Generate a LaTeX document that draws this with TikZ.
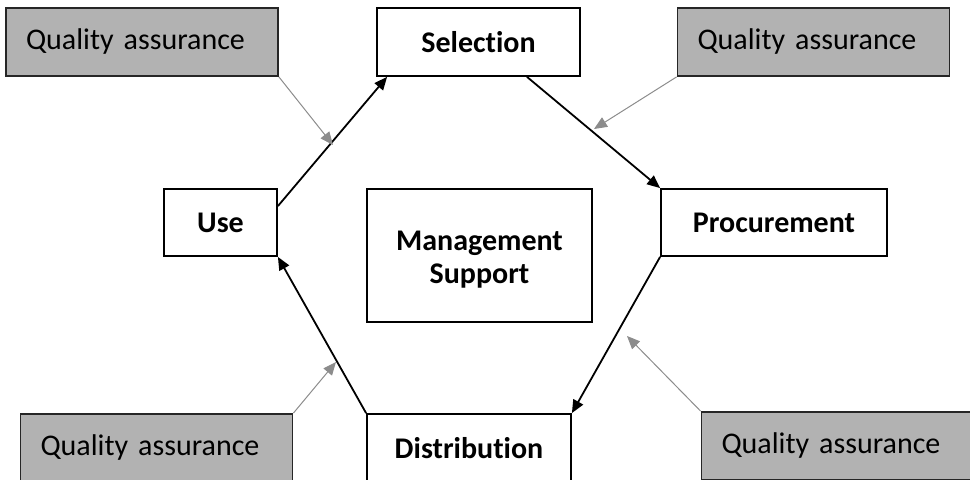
\documentclass[tikz,border=0pt]{standalone}
\usepackage{fontspec}
\setmainfont[Ligatures=NoCommon,WordSpace=0.8]{Carlito}
\usetikzlibrary{arrows.meta,calc}
\definecolor{qagray}{RGB}{178,178,178}
\definecolor{qaline}{RGB}{140,140,140}
\tikzset{
  stagebox/.style={draw=black,line width=0.9pt,fill=white,inner sep=0pt,align=center,font=\fontsize{15}{16}\selectfont\bfseries},
  qabox/.style={draw=black!85,line width=0.9pt,fill=qagray,inner xsep=10pt,inner ysep=0pt,text width=116pt,align=left,minimum height=34pt,font=\fontsize{15}{18}\selectfont},
  flow/.style={line width=0.9pt,-{Triangle[length=6.5pt,width=5.5pt]}},
  qaflow/.style={qaline,line width=0.5pt,-{Triangle[length=6.5pt,width=5.5pt]}}
}
\begin{document}
\begin{tikzpicture}[x=0.5pt,y=-0.5pt]
\useasboundingbox (0,0) rectangle (970,480);
\clip (0,0) rectangle (970,480);
% stage boxes
\node[stagebox,minimum width=101.5pt,minimum height=34pt] (sel) at (478.5,42) {Selection};
\node[stagebox,minimum width=113pt,minimum height=33.5pt] (proc) at (774,222.5) {Procurement};
\node[stagebox,minimum width=102pt,minimum height=34pt] (dist) at (469,448) {Distribution};
\node[stagebox,minimum width=56.5pt,minimum height=33.5pt] (use) at (220.5,222.5) {Use};
\node[stagebox,minimum width=112.5pt,minimum height=66.5pt,
      label={[align=center,font=\fontsize{15}{16.5}\selectfont\bfseries,yshift=-2.2pt]center:Management\\Support}] (mgmt) at (479.5,255.5) {};
% quality assurance boxes
\node[qabox] (qa1) at (142,42) {Quality assurance};
\node[qabox] (qa2) at (813.5,42) {Quality assurance};
\node[qabox] (qa3) at (156.5,448) {Quality assurance};
\node[qabox] (qa4) at (837.5,446) {Quality assurance};
% connector points
\coordinate (s1) at ($(use.north east)+(0,18)$);
\coordinate (t1) at ($(sel.south west)+(11,0)$);
\coordinate (s2) at ($(sel.south)+(48.5,0)$);
\coordinate (g1) at (333,145);
\coordinate (g2) at (594,129);
\coordinate (g3) at (336,362);
\coordinate (g4) at (627,336);
% flow arrows
\draw[flow] (s1) -- (t1);
\draw[flow] (s2) -- (proc.north west);
\draw[flow] (proc.south west) -- (dist.north east);
\draw[flow] (dist.north west) -- (use.south east);
% quality assurance arrows
\draw[qaflow] (qa1.south east) -- (g1);
\draw[qaflow] (qa2.south west) -- (g2);
\draw[qaflow] (qa3.north east) -- (g3);
\draw[qaflow] (qa4.north west) -- (g4);
\end{tikzpicture}
\end{document}
